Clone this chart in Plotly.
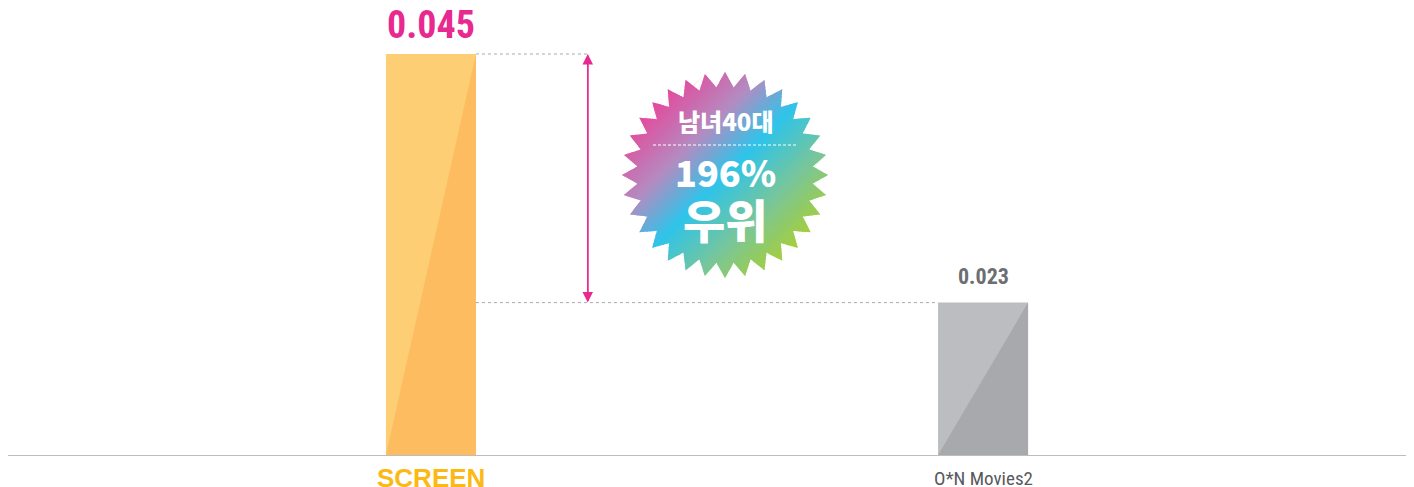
import math
import plotly.graph_objects as go

# values as printed on the chart; the drawn heights are not to scale in the original
channels = ["SCREEN", "O*N Movies2"]
ratings = [0.045, 0.023]
bar_heights = [0.045, 0.0171]
badge_lines = ["남녀40대", "196%", "우위"]

# the page body has an 8px margin, so the figure starts at page (8, 8)
OFF = 8
W, H = 1406, 479
ML, MR, MT, MB = 0, 8, 0, 32
X_RANGE = [-0.766, 1.766]
Y_RANGE = [0, 0.05016]
BAR_W = 0.163
ARROW_X = 0.284

PINK = "#E8298F"
GOLD = "#FDB913"
GREY_TXT = "#6D6E71"
LIGHT = ["#FECE74", "#BCBDC0"]
DARK = ["#FDBC5F", "#A7A9AC"]
NUM_FONT = "Roboto Condensed, DejaVu Sans Condensed, Roboto, sans-serif"
KR_FONT = "Noto Sans CJK KR, Noto Sans, sans-serif"

PW, PH = W - ML - MR, H - MT - MB


def px2paper(px, py):
    # page pixel -> paper coords
    return (px - OFF - ML) / PW, (H - MB + OFF - py) / PH


fig = go.Figure()

# bars: light face + darker lower-right triangle
for i, name in enumerate(channels):
    h = bar_heights[i]
    fig.add_trace(go.Bar(x=[i], y=[h], width=BAR_W,
                         marker=dict(color=LIGHT[i], line=dict(width=0)),
                         hoverinfo="skip"))
    x0, x1 = i - BAR_W / 2, i + BAR_W / 2
    fig.add_trace(go.Scatter(x=[x0, x1, x1, x0], y=[0, 0, h, 0], mode="lines",
                             fill="toself", fillcolor=DARK[i],
                             line=dict(width=0, color=DARK[i]), hoverinfo="skip"))

# guide lines
guide = dict(color="#A8A8A8", width=1, dash="3px,3px")
fig.add_trace(go.Scatter(x=[BAR_W / 2, ARROW_X], y=[bar_heights[0]] * 2,
                         mode="lines", line=guide, hoverinfo="skip"))
fig.add_trace(go.Scatter(x=[BAR_W / 2, 1 - BAR_W / 2], y=[bar_heights[1]] * 2,
                         mode="lines", line=guide, hoverinfo="skip"))

# double-headed arrow
for y_head, y_tail in [(bar_heights[0], bar_heights[1]), (bar_heights[1], bar_heights[0])]:
    fig.add_annotation(x=ARROW_X, y=y_head, ax=ARROW_X, ay=y_tail,
                       xref="x", yref="y", axref="x", ayref="y",
                       text="", showarrow=True, arrowhead=2, arrowsize=1.4,
                       arrowwidth=1.5, arrowcolor=PINK, standoff=0)

# value labels
fig.add_annotation(x=0, y=bar_heights[0], yshift=29, text=f"<b>{ratings[0]:.3f}</b>",
                   showarrow=False, font=dict(family=NUM_FONT, size=38, color=PINK))
fig.add_annotation(x=1, y=bar_heights[1], yshift=26, text=f"<b>{ratings[1]:.3f}</b>",
                   showarrow=False, font=dict(family=NUM_FONT, size=22, color=GREY_TXT))

# category labels
fig.add_annotation(x=0, y=0, yshift=-23, text="<b>" + channels[0] + "</b>", showarrow=False,
                   font=dict(family="Liberation Sans, Arial, sans-serif", size=26, color=GOLD))
fig.add_annotation(x=1, y=0, yshift=-23, text=channels[1], showarrow=False,
                   font=dict(family=NUM_FONT, size=19, color="#58595B"))

# starburst badge with a diagonal gradient, built from clipped bands
CX, CY, R_OUT, R_IN, N_PTS = 725, 175, 103, 88, 32
star = []
for k in range(N_PTS * 2):
    a = -math.pi / 2 + k * math.pi / N_PTS
    r = R_OUT if k % 2 == 0 else R_IN
    star.append((CX + r * math.cos(a), CY + r * math.sin(a)))

stops = [(0.0, "#E6479B"), (0.28, "#B38CC1"), (0.5, "#2EC4EA"),
         (0.75, "#78C69A"), (1.0, "#A8CF38")]


def mix(t):
    for (t0, c0), (t1, c1) in zip(stops, stops[1:]):
        if t <= t1:
            f = (t - t0) / (t1 - t0)
            a = [int(c0[j:j + 2], 16) for j in (1, 3, 5)]
            b = [int(c1[j:j + 2], 16) for j in (1, 3, 5)]
            return "rgb(%d,%d,%d)" % tuple(round(a[m] + (b[m] - a[m]) * f) for m in range(3))
    return stops[-1][1]


def clip(poly, fn):
    out = []
    for p, q in zip(poly, poly[1:] + poly[:1]):
        fp, fq = fn(p), fn(q)
        if fp >= 0:
            out.append(p)
        if (fp >= 0) != (fq >= 0):
            t = fp / (fp - fq)
            out.append((p[0] + (q[0] - p[0]) * t, p[1] + (q[1] - p[1]) * t))
    return out


D = 1 / math.sqrt(2)
N_BANDS = 90
for b in range(N_BANDS):
    lo = -R_OUT + 2 * R_OUT * b / N_BANDS
    hi = -R_OUT + 2 * R_OUT * (b + 1) / N_BANDS + 1.5
    u = lambda p: (p[0] - CX) * D + (p[1] - CY) * D
    poly = clip(star, lambda p: u(p) - lo)
    poly = clip(poly, lambda p: hi - u(p))
    if len(poly) < 3:
        continue
    col = mix((b + 0.5) / N_BANDS)
    path = "M" + " L".join("%.5f,%.5f" % px2paper(*p) for p in poly) + " Z"
    fig.add_shape(type="path", path=path, xref="paper", yref="paper",
                  fillcolor=col, line=dict(width=0), layer="above")

x0p, yp = px2paper(653, 145)
x1p, _ = px2paper(797, 145)
fig.add_shape(type="line", x0=x0p, x1=x1p, y0=yp, y1=yp, xref="paper", yref="paper",
              line=dict(color="white", width=1, dash="3px,2px"), layer="above")

for txt, py, size in zip(badge_lines, [101, 171, 218], [24, 36, 46]):
    xp, ypp = px2paper(CX, py)
    fig.add_annotation(x=xp, y=ypp, xref="paper", yref="paper", text=txt,
                       showarrow=False,
                       font=dict(family=KR_FONT, size=size, color="white", weight=900))

fig.update_layout(
    width=W, height=H,
    margin=dict(l=ML, r=MR, t=MT, b=MB),
    paper_bgcolor="white", plot_bgcolor="white",
    showlegend=False, barmode="overlay",
)
fig.update_xaxes(range=X_RANGE, showgrid=False, zeroline=False, showticklabels=False,
                 showline=True, linecolor="#BDBDBD", linewidth=1, ticks="")
fig.update_yaxes(range=Y_RANGE, visible=False)

fig.write_html("out.html")
